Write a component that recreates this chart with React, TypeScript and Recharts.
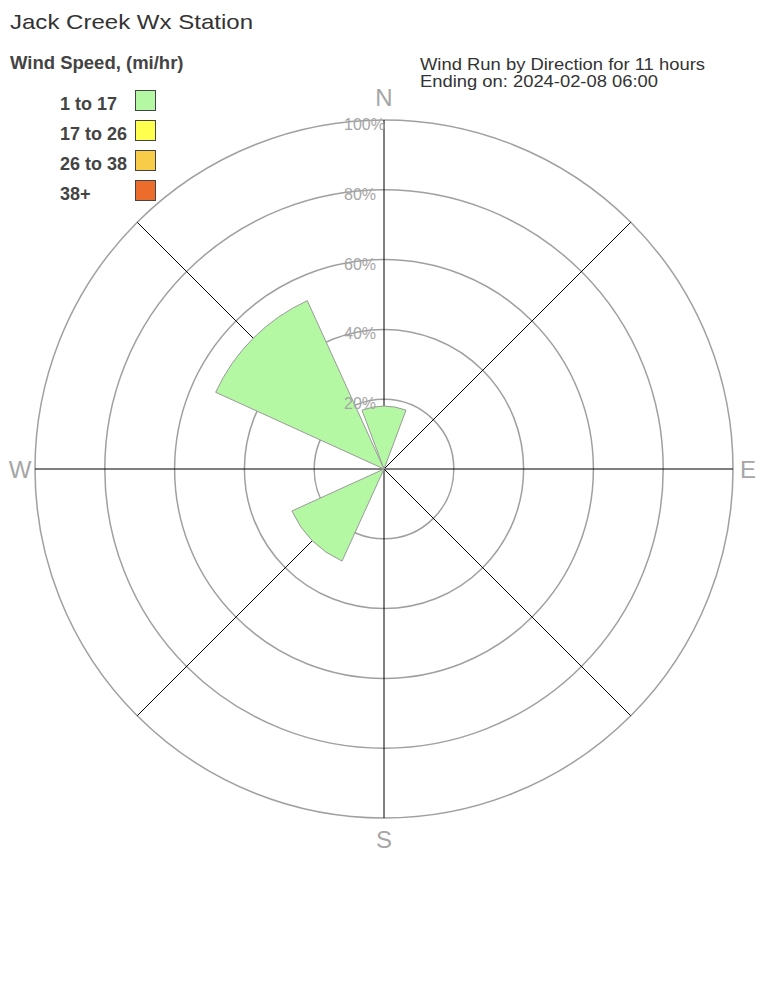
import React from 'react'
import { RadarChart, Radar, PolarGrid, PolarAngleAxis, PolarRadiusAxis, Sector } from 'recharts'

// wind run share (%) by direction, 1 to 17 mi/hr bin
const directions = ['N', 'NE', 'E', 'SE', 'S', 'SW', 'W', 'NW']
const run1to17 = [18, 0, 0, 0, 0, 29, 0, 53]
const ringTicks = [0, 20, 40, 60, 80, 100]
const speedBins = ['1 to 17', '17 to 26', '26 to 38', '38+']
const binColors = ['#b4f8a4', '#ffff4d', '#f8cc48', '#ec6c2c']

const data = directions.map((dir, i) => ({ dir, run: run1to17[i] }))

const CX = 384
const CY = 469
const R = 349
const HALF = 20.5
const GREY = '#a6a6a6'
const FONT = '"Liberation Sans", Arial, sans-serif'

function RoseSectors(props: any) {
  const pts = props.points || []
  return (
    <g>
      {pts.map((p: any, i: number) =>
        p.value > 0 ? (
          <Sector
            key={i}
            cx={p.cx ?? CX}
            cy={p.cy ?? CY}
            innerRadius={0}
            outerRadius={p.radius}
            startAngle={p.angle - HALF}
            endAngle={p.angle + HALF}
            fill={binColors[0]}
            stroke="#9a9a9a"
            strokeWidth={1}
          />
        ) : null
      )}
    </g>
  )
}

function CardinalTick(props: any) {
  const { x, y, payload } = props
  const cx = props.cx ?? CX
  const cy = props.cy ?? CY
  const label = String(payload.value)
  if (label.length > 1) return null
  const dx = x - cx
  const dy = y - cy
  const d = Math.hypot(dx, dy) || 1
  // a touch further out at the top than at the bottom, as in the original
  const r = R + (Math.abs(dy) > Math.abs(dx) ? (dy < 0 ? 23 : 21) : 15)
  return (
    <text x={cx + (dx / d) * r} y={cy + (dy / d) * r} textAnchor="middle" dominantBaseline="central"
      fill={GREY} fontSize={24} fontFamily={FONT}>
      {label}
    </text>
  )
}

function RingTick(props: any) {
  const { x, y, payload } = props
  if (!payload.value) return null
  return (
    <text x={x - 40} y={y + 4.5} dominantBaseline="central" fill={GREY} fontSize={16} fontFamily={FONT}>
      {payload.value}%
    </text>
  )
}

export default function App() {
  return (
    <div style={{ position: 'absolute', left: 0, top: 0, width: 768, height: 1008, background: '#fff' }}>
      <RadarChart width={768} height={1008} data={data} cx={CX} cy={CY} outerRadius={R}
        startAngle={90} endAngle={-270} margin={{ top: 0, right: 0, bottom: 0, left: 0 }}>
        <PolarGrid gridType="circle" radialLines={false} stroke="#a0a0a0" strokeWidth={1.5} />
        <PolarAngleAxis dataKey="dir" tick={CardinalTick} tickLine={false} axisLine={false} />
        <PolarRadiusAxis angle={90} domain={[0, 100]} ticks={ringTicks} tickCount={6}
          axisLine={false} tick={RingTick} />
        <Radar dataKey="run" isAnimationActive={false} shape={RoseSectors} />
        <PolarGrid gridType="circle" polarRadius={[]} radialLines stroke="#000" strokeWidth={1} />
      </RadarChart>
      <svg width={768} height={220} style={{ position: 'absolute', left: 0, top: 0, pointerEvents: 'none' }}
        fontFamily={FONT}>
        <text x={10} y={29} fontSize={21} fill="#333" textLength={243} lengthAdjust="spacingAndGlyphs">
          Jack Creek Wx Station
        </text>
        <text x={10} y={69} fontSize={18.5} fontWeight="bold" fill="#444">Wind Speed, (mi/hr)</text>
        {speedBins.map((b, i) => (
          <g key={b}>
            <text x={60} y={110 + i * 30} fontSize={18} fontWeight="bold" fill="#444">{b}</text>
            <rect x={135.5} y={90.5 + i * 30} width={20} height={20} fill={binColors[i]} stroke="#444" strokeWidth={1} />
          </g>
        ))}
        <text x={420} y={69.5} fontSize={16} fill="#333" textLength={285} lengthAdjust="spacingAndGlyphs">
          Wind Run by Direction for 11 hours
        </text>
        <text x={420} y={86.5} fontSize={16} fill="#333" textLength={238} lengthAdjust="spacingAndGlyphs">
          Ending on: 2024-02-08 06:00
        </text>
      </svg>
    </div>
  )
}
